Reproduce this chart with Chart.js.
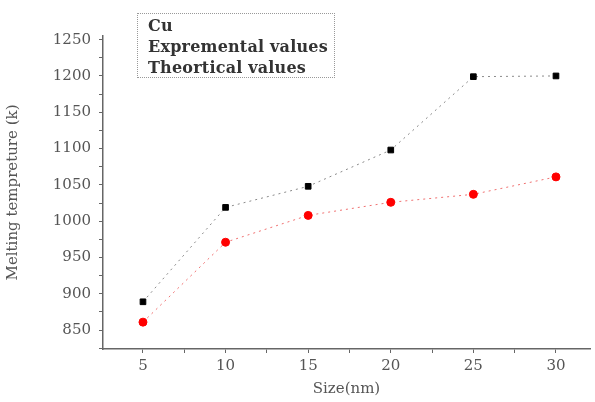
<!DOCTYPE html>
<html>
<head>
<meta charset="utf-8">
<script src="https://cdn.jsdelivr.net/npm/chart.js@4"></script>
<style>
  html, body { margin: 0; padding: 0; background: #fff; }
  #wrap { position: relative; width: 595px; height: 402px; }
  #legend {
    position: absolute; left: 137px; top: 13px; width: 198px; height: 65px;
    border: 1.5px dotted #999; box-sizing: border-box;
    font: bold 16px 'DejaVu Serif', serif; color: #333; line-height: 21px;
    padding: 1px 0 0 10px; letter-spacing: 0.2px;
  }
</style>
</head>
<body>
<div id="wrap">
  <canvas id="c" width="595" height="402"></canvas>
  <div id="legend">
    <div>Cu</div>
    <div>Expremental values</div>
    <div>Theortical values</div>
  </div>
</div>
<script>
// valori (Cu, temperatura di fusione vs dimensione)
const sizes = [5, 10, 15, 20, 25, 30];
const experimental = [889, 1019, 1048, 1098, 1199, 1200];
const theoretical = [861, 971, 1008, 1026, 1037, 1061];

const pts = (ys) => sizes.map((x, i) => ({ x, y: ys[i] }));
const serif = "'DejaVu Serif', serif";

new Chart(document.getElementById('c'), {
  type: 'scatter',
  data: {
    datasets: [
      { label: 'Expremental values', data: pts(experimental), showLine: true,
        borderColor: '#8a8a8a', borderWidth: 1, borderDash: [2, 4],
        pointStyle: 'rect', pointRadius: 4, pointBackgroundColor: '#000', pointBorderColor: '#000' },
      { label: 'Theortical values', data: pts(theoretical), showLine: true,
        borderColor: '#f07070', borderWidth: 1, borderDash: [2, 4],
        pointStyle: 'circle', pointRadius: 4, pointBackgroundColor: '#f00', pointBorderColor: '#f00' },
    ],
  },
  options: {
    responsive: false, animation: false,
    layout: { padding: { left: 0, right: 0, top: 36, bottom: 0 } },
    plugins: { legend: { display: false }, tooltip: { enabled: false } },
    scales: {
      x: {
        type: 'linear', min: 2.58, max: 32.06,
        afterFit: (s) => { s.height = 53; },
        border: { color: '#666', width: 1.5, dash: [2, 2] },
        grid: { drawOnChartArea: false, drawTicks: true, tickLength: 4, color: '#666' },
        ticks: { stepSize: 2.5, includeBounds: false, autoSkip: false, maxRotation: 0, padding: 4,
          color: '#555', font: { family: serif, size: 15 },
          callback: (v) => (v % 5 === 0 ? v : '') },
        title: { display: true, text: 'Size(nm)', color: '#555', font: { family: serif, size: 15 }, padding: { top: 2 } },
      },
      y: {
        type: 'linear', min: 824, max: 1255,
        afterFit: (s) => { s.width = 103; },
        border: { color: '#666', width: 1.5, dash: [2, 2] },
        grid: { drawOnChartArea: false, drawTicks: true, tickLength: 4, color: '#666' },
        ticks: { stepSize: 25, includeBounds: false, autoSkip: false, padding: 8,
          color: '#555', font: { family: serif, size: 15 },
          callback: (v) => (v % 50 === 0 ? v : '') },
        title: { display: true, text: 'Melting tempreture (k)', color: '#555', font: { family: serif, size: 15 }, padding: { bottom: 2 } },
      },
    },
  },
});
</script>
</body>
</html>
